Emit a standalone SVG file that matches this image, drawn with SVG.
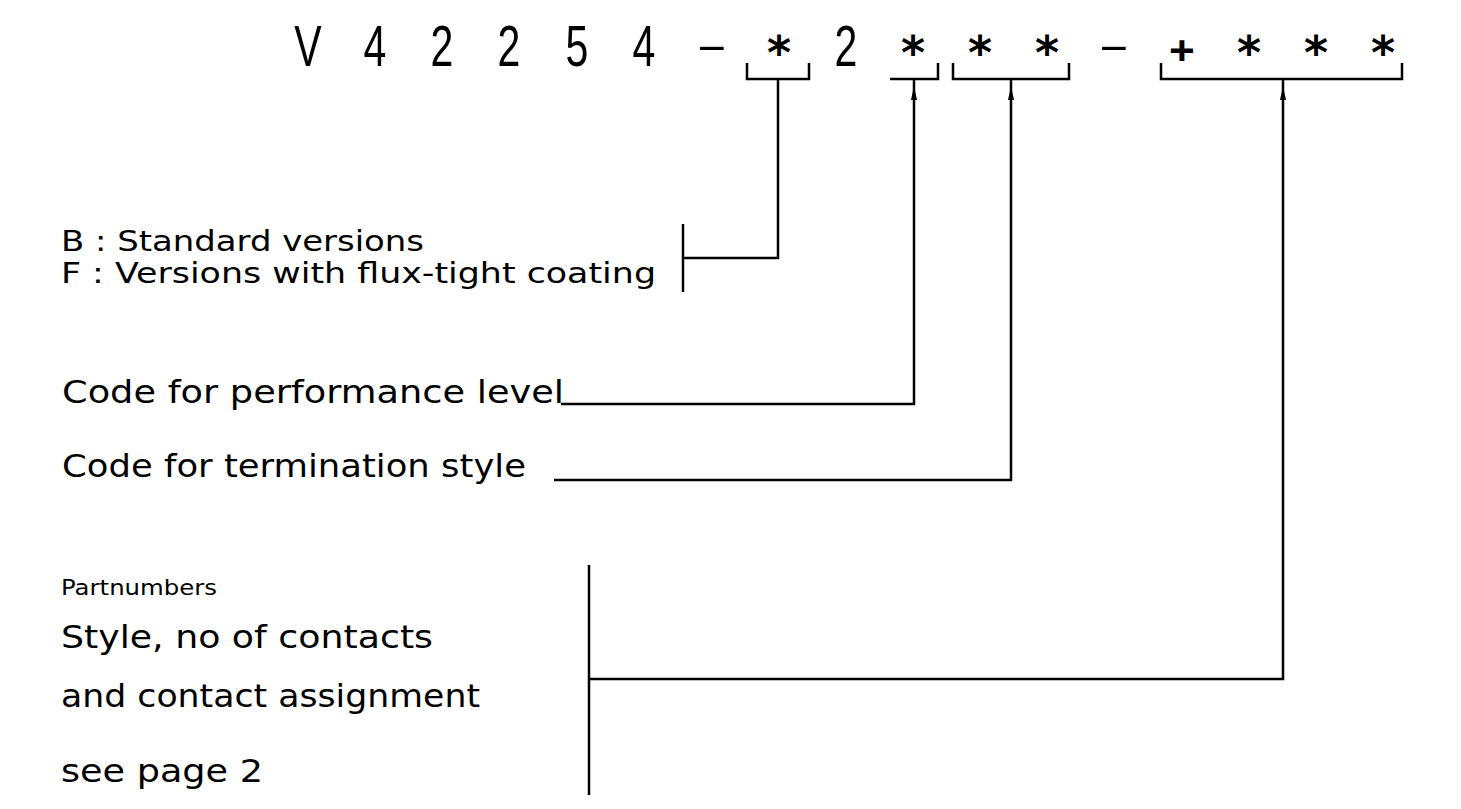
<svg xmlns="http://www.w3.org/2000/svg" xmlns:xlink="http://www.w3.org/1999/xlink" width="1461" height="809" viewBox="0 0 1461 809">
<style>
.c{font-family:"Liberation Sans",Arial,sans-serif;font-size:57px;fill:#000;text-anchor:middle}
.ast{font-family:"DejaVu Sans",sans-serif;font-size:46px;font-weight:bold;fill:#000;text-anchor:middle}
.lbl{font-family:"DejaVu Sans",sans-serif;font-size:32px;fill:#000}
.lb2{font-family:"DejaVu Sans",sans-serif;font-size:29px;fill:#000}
.sm{font-family:"DejaVu Sans",sans-serif;font-size:22px;fill:#000}
.ln{fill:none;stroke:#000;stroke-width:2.5;stroke-linecap:butt;stroke-linejoin:miter}
</style>
<defs>
<path id="ah" d="M0,0 L-3,14 L3,14 Z" fill="#000"/>
</defs>
<rect width="1461" height="809" fill="#fff"/>
<g id="code">
<text class="c" transform="translate(308,66) scale(0.72,1)">V</text>
<text class="c" transform="translate(375,66) scale(0.72,1)">4</text>
<text class="c" transform="translate(442,66) scale(0.72,1)">2</text>
<text class="c" transform="translate(509,66) scale(0.72,1)">2</text>
<text class="c" transform="translate(577,66) scale(0.72,1)">5</text>
<text class="c" transform="translate(644,66) scale(0.72,1)">4</text>
<text class="c" transform="translate(712,59) scale(1.7,0.7)">-</text>
<text class="ast" x="779" y="69">*</text>
<text class="c" transform="translate(846,66) scale(0.72,1)">2</text>
<text class="ast" x="913" y="69">*</text>
<text class="ast" x="980" y="69">*</text>
<text class="ast" x="1047" y="69">*</text>
<text class="c" transform="translate(1114,59) scale(1.7,0.7)">-</text>
<text class="c" transform="translate(1182,64) scale(1.05,0.95)" style="font-size:42px;font-weight:bold">+</text>
<text class="ast" x="1249" y="69">*</text>
<text class="ast" x="1316" y="69">*</text>
<text class="ast" x="1383" y="69">*</text>
</g>
<g id="label-version">
<text class="lb2" x="61" y="251" textLength="363" lengthAdjust="spacingAndGlyphs">B : Standard versions</text>
<text class="lb2" x="61" y="283" textLength="595" lengthAdjust="spacingAndGlyphs">F : Versions with flux-tight coating</text>
</g>
<g id="label-performance">
<text class="lbl" x="62" y="403" textLength="502" lengthAdjust="spacingAndGlyphs">Code for performance level</text>
</g>
<g id="label-termination">
<text class="lbl" x="62" y="477" textLength="464" lengthAdjust="spacingAndGlyphs">Code for termination style</text>
</g>
<g id="label-partnumbers">
<text class="sm" x="61" y="595" textLength="156" lengthAdjust="spacingAndGlyphs">Partnumbers</text>
<text class="lbl" x="61" y="648" textLength="372" lengthAdjust="spacingAndGlyphs">Style, no of contacts</text>
<text class="lbl" x="61" y="707" textLength="419" lengthAdjust="spacingAndGlyphs">and contact assignment</text>
<text class="lbl" x="61" y="782" textLength="202" lengthAdjust="spacingAndGlyphs">see page 2</text>
</g>
<g id="connectors">
<path class="ln" d="M747,63 V79 H809 V63"/>
<path class="ln" d="M778,79 V258 H683"/>
<path class="ln" d="M683,224 V292"/>
<path class="ln" d="M890,79 H938 V63"/>
<path class="ln" d="M914,79 V404 H561"/>
<use xlink:href="#ah" x="914" y="86"/>
<path class="ln" d="M953,63 V79 H1069 V63"/>
<path class="ln" d="M1011,79 V480 H554"/>
<use xlink:href="#ah" x="1011" y="86"/>
<path class="ln" d="M1161,63 V79 H1402 V63"/>
<path class="ln" d="M1283,79 V679 H589"/>
<use xlink:href="#ah" x="1283" y="86"/>
<path class="ln" d="M589,565 V795"/>
</g>
</svg>
